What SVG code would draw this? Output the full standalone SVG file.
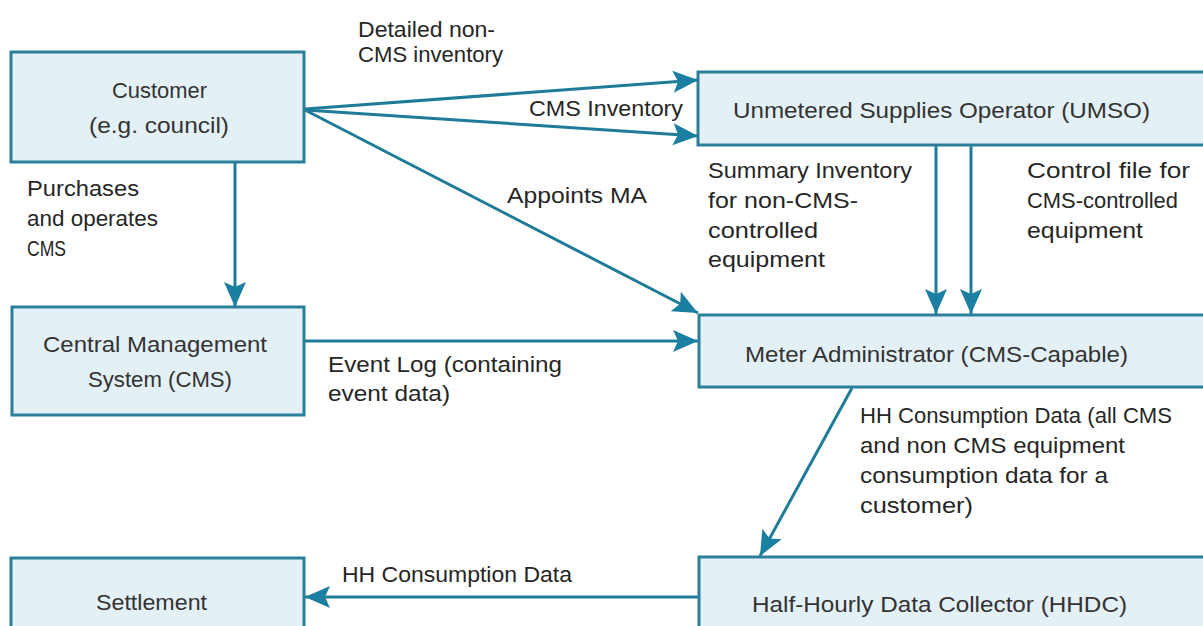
<svg xmlns="http://www.w3.org/2000/svg" width="1203" height="626" viewBox="0 0 1203 626">
<defs>
<style>
.box{fill:#e3f0f6;stroke:#2c7f9a;stroke-width:3}
.bl{font-family:"Liberation Sans",Arial,sans-serif;font-size:22px;fill:#333}
.el{font-family:"Liberation Sans",Arial,sans-serif;font-size:22px;fill:#262626}
.cn{stroke:#1f7c99;stroke-width:3;fill:none;marker-end:url(#ah)}
</style>
<marker id="ah" markerUnits="userSpaceOnUse" markerWidth="26" markerHeight="22" refX="25" refY="11" orient="auto">
<path d="M0,0 L25,11 L0,22 L5,11 Z" fill="#1a7fa0"/>
</marker>
</defs>
<rect width="1203" height="626" fill="#ffffff"/>

<g id="connectors">
<line class="cn" x1="305" y1="109" x2="698" y2="80"/>
<line class="cn" x1="305" y1="110" x2="698" y2="136"/>
<line class="cn" x1="305" y1="110" x2="698" y2="313"/>
<line class="cn" x1="235" y1="163" x2="235" y2="307"/>
<line class="cn" x1="305" y1="341" x2="698" y2="341"/>
<line class="cn" x1="936" y1="146" x2="936" y2="314"/>
<line class="cn" x1="971" y1="146" x2="971" y2="314"/>
<line class="cn" x1="852" y1="388" x2="760" y2="556"/>
<line class="cn" x1="699" y1="597" x2="305" y2="597"/>
</g>

<g id="edge-labels">
<text class="el" x="358" y="37" textLength="137" lengthAdjust="spacingAndGlyphs">Detailed  non-</text>
<text class="el" x="358" y="62" textLength="145" lengthAdjust="spacingAndGlyphs">CMS  inventory</text>
<text class="el" x="529" y="116" textLength="154" lengthAdjust="spacingAndGlyphs">CMS  Inventory</text>
<text class="el" x="507" y="203" textLength="140" lengthAdjust="spacingAndGlyphs">Appoints MA</text>
<text class="el" x="27" y="196" textLength="112" lengthAdjust="spacingAndGlyphs">Purchases</text>
<text class="el" x="27" y="226" textLength="131" lengthAdjust="spacingAndGlyphs">and operates</text>
<text class="el" x="27" y="256" textLength="39" lengthAdjust="spacingAndGlyphs">CMS</text>
<text class="el" x="328" y="372" textLength="234" lengthAdjust="spacingAndGlyphs">Event Log (containing</text>
<text class="el" x="328" y="401" textLength="122" lengthAdjust="spacingAndGlyphs">event data)</text>
<text class="el" x="708" y="178" textLength="204" lengthAdjust="spacingAndGlyphs">Summary  Inventory</text>
<text class="el" x="708" y="208" textLength="150" lengthAdjust="spacingAndGlyphs">for non-CMS-</text>
<text class="el" x="708" y="238" textLength="110" lengthAdjust="spacingAndGlyphs">controlled</text>
<text class="el" x="708" y="267" textLength="117" lengthAdjust="spacingAndGlyphs">equipment</text>
<text class="el" x="1027" y="178" textLength="163" lengthAdjust="spacingAndGlyphs">Control  file  for</text>
<text class="el" x="1027" y="208" textLength="151" lengthAdjust="spacingAndGlyphs">CMS-controlled</text>
<text class="el" x="1027" y="238" textLength="116" lengthAdjust="spacingAndGlyphs">equipment</text>
<text class="el" x="860" y="423" textLength="312" lengthAdjust="spacingAndGlyphs">HH Consumption Data  (all CMS</text>
<text class="el" x="860" y="453" textLength="265" lengthAdjust="spacingAndGlyphs">and non CMS  equipment</text>
<text class="el" x="860" y="483" textLength="248" lengthAdjust="spacingAndGlyphs">consumption  data for a</text>
<text class="el" x="860" y="513" textLength="113" lengthAdjust="spacingAndGlyphs">customer)</text>
<text class="el" x="342" y="582" textLength="230" lengthAdjust="spacingAndGlyphs">HH Consumption Data</text>
</g>

<g id="customer">
<rect class="box" x="11" y="52" width="293" height="110"/>
<text class="bl" x="112" y="98" textLength="95" lengthAdjust="spacingAndGlyphs">Customer</text>
<text class="bl" x="89" y="133" textLength="140" lengthAdjust="spacingAndGlyphs">(e.g.  council)</text>
</g>

<g id="cms">
<rect class="box" x="12" y="307" width="292" height="108"/>
<text class="bl" x="43" y="352" textLength="224" lengthAdjust="spacingAndGlyphs">Central  Management</text>
<text class="bl" x="88" y="387" textLength="144" lengthAdjust="spacingAndGlyphs">System  (CMS)</text>
</g>

<g id="settlement">
<rect class="box" x="11" y="558" width="293" height="90"/>
<text class="bl" x="96" y="610" textLength="111" lengthAdjust="spacingAndGlyphs">Settlement</text>
</g>

<g id="umso">
<rect class="box" x="698" y="72" width="520" height="73"/>
<text class="bl" x="733" y="118" textLength="417" lengthAdjust="spacingAndGlyphs">Unmetered  Supplies  Operator  (UMSO)</text>
</g>

<g id="meter-administrator">
<rect class="box" x="699" y="315" width="520" height="72"/>
<text class="bl" x="745" y="362" textLength="383" lengthAdjust="spacingAndGlyphs">Meter  Administrator  (CMS-Capable)</text>
</g>

<g id="hhdc">
<rect class="box" x="699" y="557" width="520" height="90"/>
<text class="bl" x="752" y="612" textLength="375" lengthAdjust="spacingAndGlyphs">Half-Hourly  Data  Collector  (HHDC)</text>
</g>
</svg>
